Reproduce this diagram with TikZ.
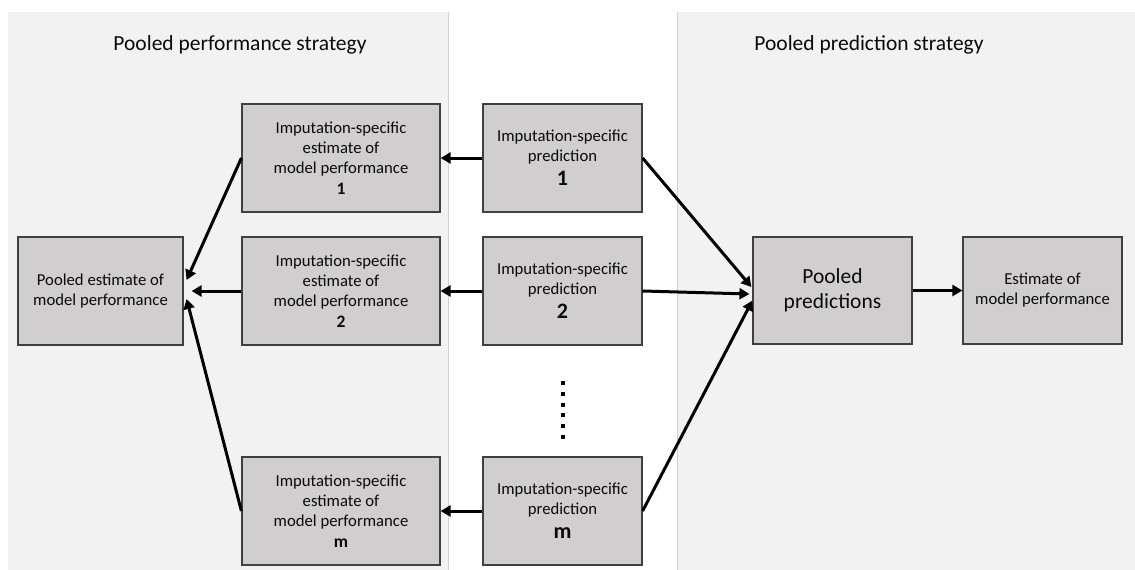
\documentclass[tikz,border=0pt]{standalone}
\usepackage{fontspec}
\setmainfont{Carlito}
\usetikzlibrary{arrows.meta}
\definecolor{panelbg}{HTML}{F2F2F2}
\definecolor{panelline}{HTML}{D0D0D0}
\definecolor{boxfill}{HTML}{D0CECE}
\definecolor{boxline}{HTML}{404040}
\definecolor{txt}{HTML}{0A0A0A}
\begin{document}
\begin{tikzpicture}[x=1pt,y=-1pt,
  box/.style={draw=boxline, line width=1.2pt, fill=boxfill, inner sep=0pt,
    minimum width=#1, minimum height=108pt, align=center, text=txt,
    font=\fontsize{16.7}{20}\selectfont},
  box/.default=198pt,
  conn/.style={line width=3pt, -{Triangle[length=10pt,width=11pt]}},
  title/.style={anchor=base, font=\fontsize{21.5}{25}\selectfont, text=txt}]
\useasboundingbox (0,0) rectangle (1135,570);
\fill[white] (0,0) rectangle (1135,570);
% panels
\fill[panelbg] (8,12) rectangle (448,570);
\fill[panelbg] (677,12) rectangle (1135,570);
\draw[panelline, line width=1pt] (448,12) -- (448,570);
\draw[panelline, line width=1pt] (677.5,12) -- (677.5,570);
% titles
\node[title] (t1) at (240,50) {Pooled performance strategy};
\node[title] (t2) at (869,50) {Pooled prediction strategy};
% boxes
\node[box=165pt] (pe) at (100.5,291) {Pooled estimate of\\model performance};
\node[box] (e1) at (341,158) {Imputation-specific\\estimate of\\model performance\\[1pt]{\fontsize{17.5}{20}\selectfont\bfseries 1}};
\node[box] (e2) at (341,291) {Imputation-specific\\estimate of\\model performance\\[1pt]{\fontsize{17.5}{20}\selectfont\bfseries 2}};
\node[box] (em) at (341,511) {Imputation-specific\\estimate of\\model performance\\[1pt]{\fontsize{17.5}{20}\selectfont\bfseries m}};
\node[box=159pt] (p1) at (562.5,158) {Imputation-specific\\prediction\\[4pt]{\fontsize{22}{24}\selectfont\bfseries 1}};
\node[box=159pt] (p2) at (562.5,291) {Imputation-specific\\prediction\\[4pt]{\fontsize{22}{24}\selectfont\bfseries 2}};
\node[box=159pt] (pm) at (562.5,511) {Imputation-specific\\prediction\\[4pt]{\fontsize{22}{24}\selectfont\bfseries m}};
\node[box=159pt, minimum height=107pt, font=\fontsize{21.5}{25.5}\selectfont] (pp) at (832.5,290.5) {Pooled\\predictions};
\node[box=159pt, minimum height=107pt] (fe) at (1042.5,290.5) {Estimate of\\model performance};
% dots
\draw[line width=4pt, dash pattern=on 4pt off 6.8pt] (563,381) -- (563,442);
% connectors
\draw[conn] (p1.west) -- (e1.east);
\draw[conn] (p2.west) -- (e2.east);
\draw[conn] (pm.west) -- (em.east);
\draw[conn] (e1.west) -- ([shift={(3,-11)}]pe.east);
\draw[conn] (e2.west) -- ([shift={(8,0)}]pe.east);
\draw[conn] (em.west) -- ([shift={(3,8)}]pe.east);
\draw[conn] (p1.east) -- ([shift={(-1,-3.5)}]pp.west);
\draw[conn] (p2.east) -- ([shift={(-3,3.5)}]pp.west);
\draw[conn] (pm.east) -- ([shift={(0,10)}]pp.west);
\draw[conn] (pp.east) -- (fe.west);
\end{tikzpicture}
\end{document}
